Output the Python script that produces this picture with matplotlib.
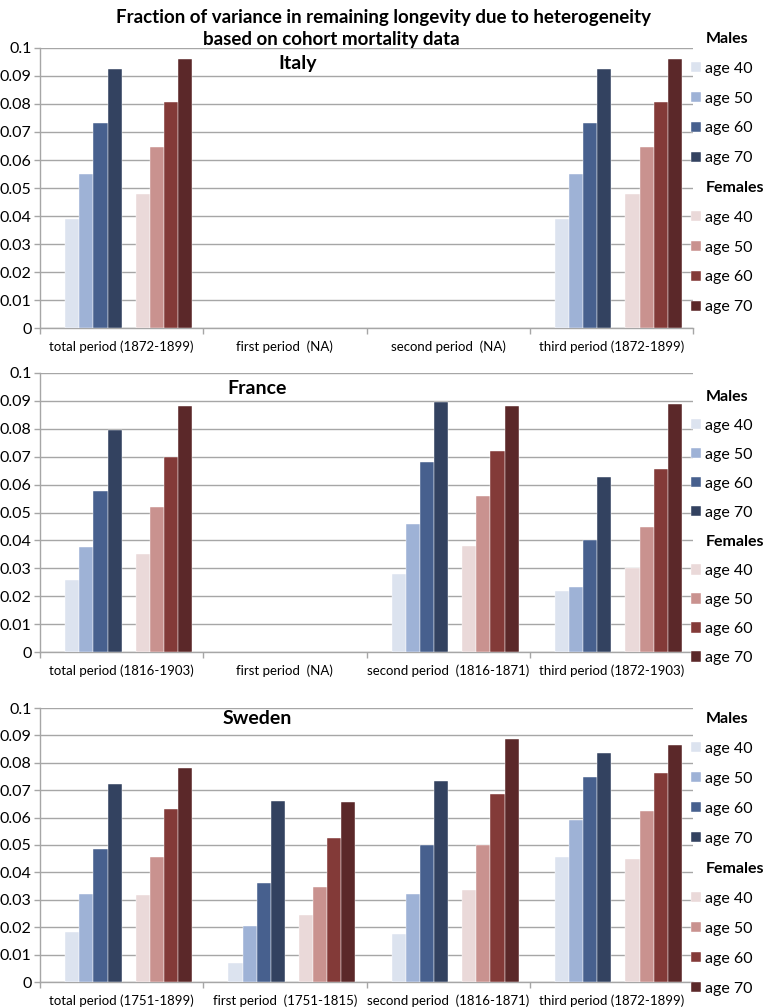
#!/usr/bin/env python3

import matplotlib
matplotlib.use('Agg')
import matplotlib.pyplot as plt
from matplotlib.patches import Rectangle
import numpy as np

plt.rcParams['font.family'] = ['Lato', 'DejaVu Sans']

NA = np.nan
AGES = ['age 40', 'age 50', 'age 60', 'age 70']

COUNTRIES = ['Italy', 'France', 'Sweden']

PERIODS = {
    'Italy': ['total period (1872-1899)', 'first period  (NA)',
              'second period  (NA)', 'third period (1872-1899)'],
    'France': ['total period (1816-1903)', 'first period  (NA)',
               'second period  (1816-1871)', 'third period (1872-1903)'],
    'Sweden': ['total period (1751-1899)', 'first period  (1751-1815)',
               'second period  (1816-1871)', 'third period (1872-1899)'],
}

# rows = period (total, first, second, third), cols = age 40..70
MALES = {
    'Italy': [[0.0390, 0.0549, 0.0733, 0.0925],
              [NA, NA, NA, NA],
              [NA, NA, NA, NA],
              [0.0390, 0.0549, 0.0733, 0.0925]],
    'France': [[0.0259, 0.0378, 0.0578, 0.0797],
               [NA, NA, NA, NA],
               [0.0281, 0.0460, 0.0681, 0.0896],
               [0.0219, 0.0233, 0.0401, 0.0626]],
    'Sweden': [[0.0182, 0.0321, 0.0485, 0.0721],
               [0.0069, 0.0206, 0.0360, 0.0662],
               [0.0176, 0.0320, 0.0500, 0.0732],
               [0.0457, 0.0592, 0.0747, 0.0835]],
}
FEMALES = {
    'Italy': [[0.0480, 0.0646, 0.0807, 0.0961],
              [NA, NA, NA, NA],
              [NA, NA, NA, NA],
              [0.0480, 0.0646, 0.0807, 0.0961]],
    'France': [[0.0352, 0.0520, 0.0698, 0.0883],
               [NA, NA, NA, NA],
               [0.0381, 0.0560, 0.0719, 0.0882],
               [0.0302, 0.0449, 0.0656, 0.0888]],
    'Sweden': [[0.0318, 0.0457, 0.0630, 0.0782],
               [0.0246, 0.0347, 0.0526, 0.0656],
               [0.0335, 0.0501, 0.0686, 0.0887],
               [0.0450, 0.0625, 0.0763, 0.0864]],
}

MALE_COLORS = ['#dce3ef', '#9eb2d6', '#47608e', '#334260']
FEMALE_COLORS = ['#ead9d9', '#c9928f', '#833a38', '#5b2829']

W, H = 773, 1008
# axes boxes in pixels: left, top, right, bottom
BOXES = [(40, 48, 693, 328), (40, 373, 693, 652), (40, 708, 693, 982)]
TITLE_POS = [(298, 64), (257, 389), (257, 719)]
LEGEND_TOP = [37, 395, 717]
LEGEND_SPACING = [0.99, 0.94, 1.0]
GRID = '#a6a6a6'

fig = plt.figure(figsize=(W / 100, H / 100), dpi=100)

fig.text(383 / W, 1 - 17 / H,
         'Fraction of variance in remaining longevity due to heterogeneity',
         ha='center', va='center', fontsize=13.5, fontweight='bold')
fig.text(331 / W, 1 - 39 / H, 'based on cohort mortality data',
         ha='center', va='center', fontsize=13.5, fontweight='bold')

slot = 0.0865
x = np.arange(4)

for k, country in enumerate(COUNTRIES):
    l, t, r, b = BOXES[k]
    ax = fig.add_axes([l / W, 1 - b / H, (r - l) / W, (b - t) / H])
    males = np.array(MALES[country])
    females = np.array(FEMALES[country])

    handles = [Rectangle((0, 0), 1, 1, fc='none', ec='none')]
    labels = ['Males']
    for i in range(4):
        off = -0.4325 + (i + 1.5) * slot
        h = ax.bar(x + off, males[:, i], slot, color=MALE_COLORS[i],
                   edgecolor='white', linewidth=0.3, zorder=3)
        handles.append(h)
        labels.append(AGES[i])
    handles.append(Rectangle((0, 0), 1, 1, fc='none', ec='none'))
    labels.append('Females')
    for i in range(4):
        off = -0.4325 + (i + 6.5) * slot
        h = ax.bar(x + off, females[:, i], slot, color=FEMALE_COLORS[i],
                   edgecolor='white', linewidth=0.3, zorder=3)
        handles.append(h)
        labels.append(AGES[i])

    ax.set_xlim(-0.5, 3.5)
    ax.set_ylim(0, 0.1)
    ax.set_yticks(np.linspace(0, 0.1, 11))
    ax.set_yticklabels(['0'] + ['%.2f' % v for v in np.linspace(0.01, 0.09, 9)] + ['0.1'])
    ax.yaxis.grid(True, color=GRID, linewidth=1, zorder=0)
    ax.set_axisbelow(True)
    ax.set_xticks(np.arange(-0.5, 4, 1))
    ax.set_xticklabels([])
    ax.set_xticks(x, minor=True)
    ax.set_xticklabels(PERIODS[country], minor=True, fontsize=9.5)
    ax.tick_params(axis='x', which='major', length=4, color=GRID, width=1)
    ax.tick_params(axis='x', which='minor', length=0, pad=9)
    ax.tick_params(axis='y', length=4, color=GRID, width=1, labelsize=11.5, pad=2)
    for s in ['top', 'right']:
        ax.spines[s].set_visible(False)
    for s in ['left', 'bottom']:
        ax.spines[s].set_color(GRID)
        ax.spines[s].set_linewidth(1)

    ax.text(TITLE_POS[k][0] / W, 1 - TITLE_POS[k][1] / H, country,
            transform=fig.transFigure, ha='center', va='center',
            fontsize=14, fontweight='bold')

    top = LEGEND_TOP[k]
    leg = ax.legend(handles, labels, loc='upper left', frameon=False,
                    bbox_to_anchor=(691 / W, 1 - (top - 5) / H),
                    bbox_transform=fig.transFigure,
                    fontsize=11.5, handlelength=0.6, handleheight=0.6,
                    handletextpad=0.3, labelspacing=LEGEND_SPACING[k],
                    borderpad=0, borderaxespad=0)
    for txt, lab in zip(leg.get_texts(), labels):
        if lab in ('Males', 'Females'):
            txt.set_fontweight('bold')

fig.savefig('out.png', dpi=100)
